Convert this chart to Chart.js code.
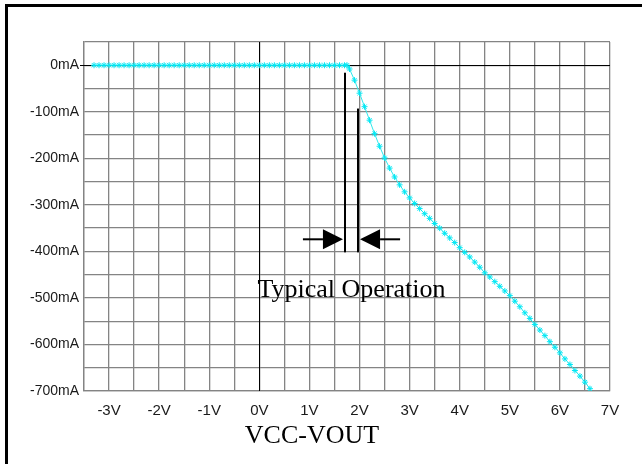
<!DOCTYPE html>
<html>
<head>
<meta charset="utf-8">
<script src="https://cdn.jsdelivr.net/npm/chart.js@4.4.1/dist/chart.umd.min.js"></script>
<style>
  html, body { margin: 0; padding: 0; background: #fff; }
  #box { width: 642px; height: 464px; }
</style>
</head>
<body>
<div id="box"><canvas id="grafico" width="642" height="464"></canvas></div>
<script>
// VCC-VOUT (V) e corrente di uscita (mA)
var tensioni = [
  -3.3, -3.2, -3.1, -3.0, -2.9, -2.8, -2.7, -2.6, -2.5, -2.4,
  -2.3, -2.2, -2.1, -2.0, -1.9, -1.8, -1.7, -1.6, -1.5, -1.4,
  -1.3, -1.2, -1.1, -1.0, -0.9, -0.8, -0.7, -0.6, -0.5, -0.4,
  -0.3, -0.2, -0.1, 0.0, 0.1, 0.2, 0.3, 0.4, 0.5, 0.6,
  0.7, 0.8, 0.9, 1.0, 1.1, 1.2, 1.3, 1.4, 1.5, 1.6,
  1.7, 1.75, 1.8, 1.9, 2.0, 2.1, 2.2, 2.3, 2.4, 2.5,
  2.6, 2.7, 2.8, 2.9, 3.0, 3.1, 3.2, 3.3, 3.4, 3.5,
  3.6, 3.7, 3.8, 3.9, 4.0, 4.1, 4.2, 4.3, 4.4, 4.5,
  4.6, 4.7, 4.8, 4.9, 5.0, 5.1, 5.2, 5.3, 5.4, 5.5,
  5.6, 5.7, 5.8, 5.9, 6.0, 6.1, 6.2, 6.3, 6.4, 6.5,
  6.6
];
var correnti = [
  0, 0, 0, 0, 0, 0, 0, 0, 0, 0,
  0, 0, 0, 0, 0, 0, 0, 0, 0, 0,
  0, 0, 0, 0, 0, 0, 0, 0, 0, 0,
  0, 0, 0, 0, 0, 0, 0, 0, 0, 0,
  0, 0, 0, 0, 0, 0, 0, 0, 0, 0,
  0, 0, -8, -32, -60, -89, -118, -147, -174, -199,
  -221, -240, -257, -272, -285, -297, -308, -319, -329, -340,
  -350, -361, -371, -381, -392, -402, -412, -423, -434, -446,
  -455, -465, -475, -485, -495, -507, -519, -532, -544, -557,
  -569, -581, -594, -606, -618, -631, -643, -656, -668, -681,
  -695
];

// limiti assi
var xMin = -3.5, xMax = 7, xPasso = 0.5;
var yMin = -700, yMax = 50, yPasso = 50;

// annotazione "Typical Operation" (in unita' dati)
var lineeV = [1.71, 1.97];
var lineeTop = [-16, -93];
var lineeBottom = -402;
var frecciaY = -374;
var frecciaSx = [0.87, 1.27, 1.67];   // coda, base punta, punta
var frecciaDx = [2.81, 2.41, 2.01];
var testoAnnot = 'Typical Operation';
var testoAnnotPos = [1.84, -497];
var titoloX = 'VCC-VOUT';

var punti = [];
for (var i = 0; i < tensioni.length; i++) {
    punti.push({ x: tensioni[i], y: correnti[i] });
}

var disegnoExtra = {
    id: 'disegnoExtra',
    beforeDraw: function (chart) {
        var ctx = chart.ctx;
        ctx.save();
        ctx.fillStyle = '#fff';
        ctx.fillRect(0, 0, chart.width, chart.height);
        // cornice (solo alto e sinistra, come nell'immagine)
        ctx.fillStyle = '#000';
        ctx.fillRect(5, 4, chart.width - 5, 3);
        ctx.fillRect(5, 4, 3, chart.height - 4);
        ctx.restore();
    },
    beforeDatasetsDraw: function (chart) {
        var ctx = chart.ctx;
        var xs = chart.scales.x, ys = chart.scales.y;
        var a = chart.chartArea;
        ctx.save();
        ctx.strokeStyle = '#000';
        ctx.lineWidth = 1;
        var y0 = Math.round(ys.getPixelForValue(0)) + 0.5;
        ctx.beginPath();
        ctx.moveTo(a.left - 4, y0);
        ctx.lineTo(a.right, y0);
        var x0 = Math.round(xs.getPixelForValue(0)) + 0.5;
        ctx.moveTo(x0, a.top);
        ctx.lineTo(x0, a.bottom);
        ctx.stroke();
        ctx.restore();
    },
    afterDatasetsDraw: function (chart) {
        var ctx = chart.ctx;
        var xs = chart.scales.x, ys = chart.scales.y;
        var a = chart.chartArea;
        ctx.save();
        ctx.strokeStyle = '#000';
        ctx.fillStyle = '#000';
        ctx.lineWidth = 2;
        for (var i = 0; i < lineeV.length; i++) {
            var px = xs.getPixelForValue(lineeV[i]);
            ctx.beginPath();
            ctx.moveTo(px, ys.getPixelForValue(lineeTop[i]));
            ctx.lineTo(px, ys.getPixelForValue(lineeBottom));
            ctx.stroke();
        }
        var fy = ys.getPixelForValue(frecciaY);
        [frecciaSx, frecciaDx].forEach(function (f) {
            var coda = xs.getPixelForValue(f[0]);
            var base = xs.getPixelForValue(f[1]);
            var punta = xs.getPixelForValue(f[2]);
            ctx.beginPath();
            ctx.moveTo(coda, fy);
            ctx.lineTo(base, fy);
            ctx.stroke();
            ctx.beginPath();
            ctx.moveTo(base, fy - 10);
            ctx.lineTo(punta, fy);
            ctx.lineTo(base, fy + 10);
            ctx.closePath();
            ctx.fill();
        });
        ctx.font = '26px "Liberation Serif", "Times New Roman", serif';
        ctx.textAlign = 'center';
        ctx.textBaseline = 'alphabetic';
        ctx.fillText(testoAnnot, xs.getPixelForValue(testoAnnotPos[0]), ys.getPixelForValue(testoAnnotPos[1]));
        ctx.fillText(titoloX, xs.getPixelForValue(1.05), a.bottom + 52);
        ctx.restore();
    }
};

var grigio = '#848484';

var ctx = document.getElementById('grafico');
var chart = new Chart(ctx, {
    type: 'line',
    data: {
        datasets: [{
            label: 'Iout',
            data: punti,
            borderColor: '#30e8ec',
            backgroundColor: '#30e8ec',
            borderWidth: 1,
            pointStyle: 'star',
            pointRadius: 3,
            pointBorderWidth: 1,
            pointBorderColor: '#00e8f4',
            tension: 0
        }]
    },
    options: {
        responsive: false,
        animation: false,
        devicePixelRatio: 1,
        layout: { padding: { left: 0, right: 32, top: 42, bottom: 0 } },
        plugins: {
            legend: { display: false },
            tooltip: { enabled: false }
        },
        scales: {
            x: {
                type: 'linear',
                min: xMin,
                max: xMax,
                afterFit: function (s) { s.height = 73; },
                border: { display: true, color: grigio, width: 1.3 },
                grid: { color: grigio, lineWidth: 1.3, drawTicks: false },
                ticks: {
                    stepSize: xPasso,
                    autoSkip: false,
                    maxRotation: 0,
                    padding: 11,
                    color: '#1a1a1a',
                    font: { family: '"Liberation Sans", Arial, sans-serif', size: 15 },
                    callback: function (v) {
                        return Number.isInteger(v) ? v + 'V' : '';
                    }
                }
            },
            y: {
                min: yMin,
                max: yMax,
                afterFit: function (s) { s.width = 84; },
                border: { display: true, color: grigio, width: 1.3 },
                grid: { color: grigio, lineWidth: 1.3, drawTicks: false },
                ticks: {
                    stepSize: yPasso,
                    autoSkip: false,
                    padding: 5,
                    color: '#1a1a1a',
                    font: { family: '"Liberation Sans", Arial, sans-serif', size: 14 },
                    callback: function (v) {
                        return (v % 100 === 0 && v <= 0) ? v + 'mA' : '';
                    }
                }
            }
        }
    },
    plugins: [disegnoExtra]
});
</script>
</body>
</html>
